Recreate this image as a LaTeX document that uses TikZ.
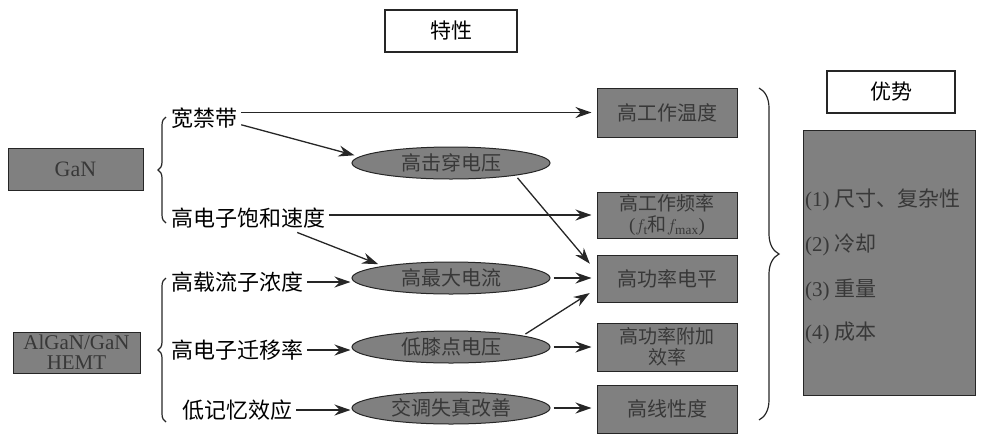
\documentclass[tikz,border=0pt]{standalone}
\usepackage{fontspec}
\setmainfont{Liberation Serif}
\newfontfamily\cjk{Noto Sans CJK SC}
\usetikzlibrary{arrows.meta,shapes.geometric,decorations.pathreplacing,calc}
\begin{document}
\begin{tikzpicture}[x=1pt,y=-1pt,
  gbox/.style={draw=black!85, line width=1pt, fill=black!50, text=black!78, inner sep=0pt, align=center, font=\fontsize{20}{22}\selectfont},
  wbox/.style={draw=black!85, line width=1.2pt, fill=white, inner sep=0pt, font=\fontsize{21}{24}\selectfont},
  gell/.style={ellipse, draw=black!85, line width=1pt, fill=black!50, text=black!78, minimum width=198pt, minimum height=32pt, inner sep=0pt, font=\fontsize{20}{22}\selectfont},
  lbl/.style={font=\fontsize{22}{24}\selectfont, inner sep=1pt, anchor=west},
  adv/.style={font=\fontsize{21}{22}\selectfont, text=black!78, inner sep=0pt, anchor=west},
  arr/.style={-{Stealth[length=16pt,width=11pt]}, line width=1.3pt, draw=black!85, shorten <=3pt, shorten >=5pt},
  brc/.style={decorate, decoration={brace, amplitude=#1}, line width=1.2pt, draw=black!85}
]
\useasboundingbox (0,0) rectangle (998,440);

% headers
\node[wbox, minimum width=132pt, minimum height=42pt] (hdr1) at (451,31) {\cjk 特性};
\node[wbox, minimum width=128pt, minimum height=42pt] (hdr2) at (891,92) {\cjk 优势};

% left material boxes
\node[gbox, minimum width=135pt, minimum height=42pt, font=\fontsize{22}{22}\selectfont] (gan) at (75.5,169) {GaN};
\node[gbox, minimum width=127pt, minimum height=41pt, font=\fontsize{21}{20}\selectfont] (hemt) at (76.5,352.5) {AlGaN/GaN\\HEMT};

% left labels
\node[lbl] (w1) at (170,118) {\cjk 宽禁带};
\node[lbl] (s1) at (170,218) {\cjk 高电子饱和速度};
\node[lbl] (a1) at (170,282) {\cjk 高载流子浓度};
\node[lbl] (m1) at (170,350) {\cjk 高电子迁移率};
\node[lbl] (l1) at (181,410) {\cjk 低记忆效应};

% ellipses
\node[gell] (e1) at (451,163) {\cjk 高击穿电压};
\node[gell] (e2) at (451,278) {\cjk 高最大电流};
\node[gell] (e3) at (451,347) {\cjk 低膝点电压};
\node[gell] (e4) at (451,408) {\cjk 交调失真改善};

% characteristic boxes
\node[gbox, minimum width=140pt, minimum height=49pt] (t1) at (667,112.5) {\cjk 高工作温度};
\node[gbox, minimum width=140pt, minimum height=46pt, font=\fontsize{19}{21}\selectfont] (t2) at (667,215) {{\cjk 高工作频率}\\($f_{\mathrm{t}}${\cjk 和}$f_{\max}$)};
\node[gbox, minimum width=140pt, minimum height=47pt] (t3) at (667,278.5) {\cjk 高功率电平};
\node[gbox, minimum width=140pt, minimum height=48pt, font=\fontsize{19}{21}\selectfont] (t4) at (667,347) {\cjk 高功率附加\\\cjk 效率};
\node[gbox, minimum width=140pt, minimum height=48pt] (t5) at (667,409) {\cjk 高线性度};

% advantage box
\node[gbox, minimum width=172pt, minimum height=265pt] (advbox) at (889,262.5) {};
\node[adv] (p1) at (805,200) {(1) {\cjk 尺寸、复杂性}};
\node[adv] (p2) at (805,245) {(2) {\cjk 冷却}};
\node[adv] (p3) at (805,290) {(3) {\cjk 重量}};
\node[adv] (p4) at (805,333) {(4) {\cjk 成本}};

% braces
\coordinate (b1a) at (166,223);
\coordinate (b1b) at (166,117);
\coordinate (b2a) at (166,422);
\coordinate (b2b) at (166,278);
\coordinate (b3a) at (759,88);
\coordinate (b3b) at (759,420);
\draw[brc=8pt] (b1a) -- (b1b);
\draw[brc=8pt] (b2a) -- (b2b);
\draw[brc=20pt] (b3a) -- (b3b);

% arrows
\draw[arr] (w1.east |- t1.west) -- (t1.west);
\draw[arr] ($(w1.east)+(0,6)$) -- (e1.176);
\draw[arr] (s1.east |- t2.west) -- (t2.west);
\draw[arr] ($(s1.south east)+(-32,2)$) -- (e2.170);
\draw[arr, shorten >=1pt] (a1.east) -- (a1.east -| e2.west);
\draw[arr, shorten >=1pt] (m1.east) -- (m1.east -| e3.west);
\draw[arr, shorten >=1pt] (l1.east) -- (l1.east -| e4.west);
\draw[arr, shorten >=1pt] (e1.-11) -- ($(t3.west)+(-6,-14)$);
\draw[arr] (e2.east) -- (e2.east -| t3.west);
\draw[arr, shorten >=1pt] (e3.9) -- ($(t3.west)+(-6,14)$);
\draw[arr] (e3.east) -- (e3.east -| t4.west);
\draw[arr] (e4.east) -- (e4.east -| t5.west);
\end{tikzpicture}
\end{document}
